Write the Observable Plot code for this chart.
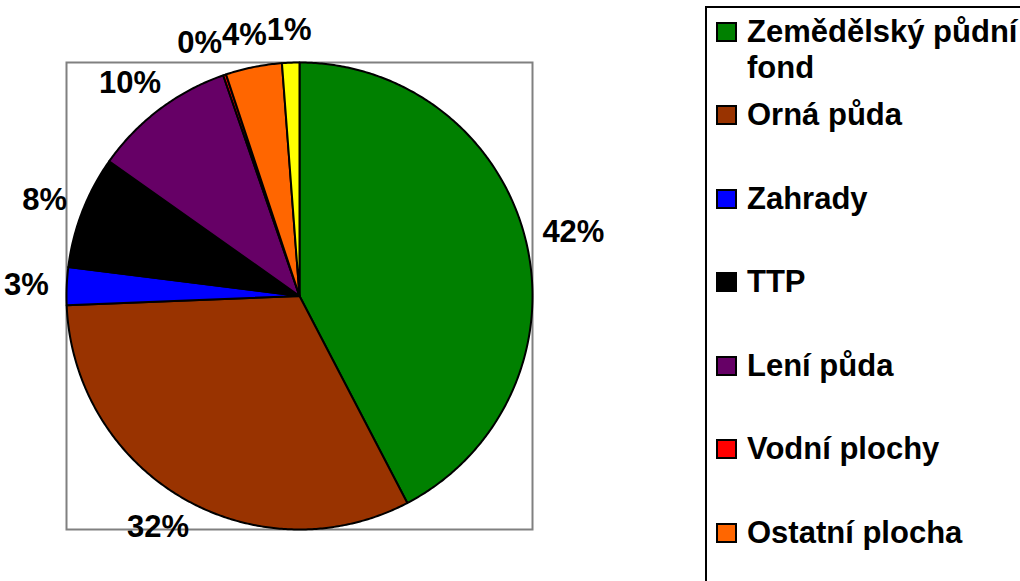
<!DOCTYPE html>
<html>
<head>
<meta charset="utf-8">
<script src="https://cdn.jsdelivr.net/npm/d3@7"></script>
<script src="https://cdn.jsdelivr.net/npm/@observablehq/plot@0.6"></script>
<style>
  html, body { margin: 0; padding: 0; background: #fff; overflow: hidden; }
  #wrap { position: relative; width: 1020px; height: 581px; overflow: hidden; }
  #legend { position: absolute; left: 705px; top: 6px; width: 420px; height: 700px; border: 2px solid #000; box-sizing: border-box; overflow: hidden; }
  .item { position: absolute; font: bold 31px "Liberation Sans", Arial, sans-serif; line-height: 36px; color: #000; width: 300px; }
  .sw { position: absolute; width: 21px; height: 20px; border: 2px solid #000; box-sizing: border-box; }
</style>
</head>
<body>
<div id="wrap"></div>
<script>
const categories = ["Zemědělský půdní fond", "Orná půda", "Zahrady", "TTP", "Lení půda", "Vodní plochy", "Ostatní plocha", "Zastavěná plocha"];
const values = [42.3, 32.0, 2.6, 7.8, 9.9, 0.2, 3.9, 1.2];
const colors = ["#008000", "#993300", "#0000FF", "#000000", "#660066", "#FF0000", "#FF6600", "#FFFF00"];

const W = 1020, H = 581;
const mL = 66, mR = 488, mT = 62, mB = 52;
const Rpx = (W - mL - mR) / 2;
const total = d3.sum(values);
const arcs = d3.pie().sort(null)(values);

// slice outlines in data units (unit circle)
const slices = arcs.map((a, i) => {
  const pts = [{x: 0, y: 0}];
  const n = Math.max(2, Math.ceil((a.endAngle - a.startAngle) / (Math.PI / 360)));
  for (let k = 0; k <= n; k++) {
    const t = a.startAngle + (a.endAngle - a.startAngle) * k / n;
    pts.push({x: Math.sin(t), y: Math.cos(t)});
  }
  return {pts, color: colors[i]};
});

// labels
const fs = 31, gap = 18, hh = 15;
let labels = arcs.map((a, i) => {
  const pct = Math.round(values[i] / total * 100);
  const text = pct + "%";
  const w = (String(pct).length * 0.556 + 0.889) * fs;
  const m = (a.startAngle + a.endAngle) / 2;
  const s = Math.sin(m), c = Math.cos(m);
  const px = (Rpx + gap) * s + (w / 2) * s;
  const py = (Rpx + gap) * c + hh * c;
  return {text, w, px, py, top: c > 0.7};
});
// simple overlap avoidance for labels near the top (shift left going counterclockwise)
for (let i = labels.length - 2; i >= 0; i--) {
  const a = labels[i], b = labels[i + 1];
  if (a.top && b.top) {
    const overlap = (a.px + a.w / 2) - (b.px - b.w / 2);
    if (overlap > 0) a.px -= overlap;
  }
}
labels = labels.map(l => ({...l, x: l.px / Rpx, y: l.py / Rpx}));

const marks = [
  Plot.frame({stroke: "#808080", strokeWidth: 2}),
  ...slices.map(s => Plot.line(s.pts, {x: "x", y: "y", fill: s.color, stroke: "#000", strokeWidth: 2, strokeLinejoin: "round", curve: "linear-closed"})),
  Plot.text(labels, {x: "x", y: "y", text: "text", fontSize: fs, fontWeight: "bold", fontFamily: "Liberation Sans, Arial, sans-serif", fill: "#000"})
];

const chart = Plot.plot({
  width: W, height: H,
  marginLeft: mL, marginRight: mR, marginTop: mT, marginBottom: mB,
  x: {domain: [-1, 1], axis: null},
  y: {domain: [-1, 1], axis: null},
  style: {background: "transparent", overflow: "visible"},
  marks
});
const wrap = document.getElementById("wrap");
wrap.appendChild(chart);

// legend (entries below the visible area are clipped, as in the reference)
const legend = document.createElement("div");
legend.id = "legend";
wrap.appendChild(legend);
const baselines = categories.map((c, i) => i === 0 ? 42 : 125 + (i - 1) * 83.5);
categories.forEach((c, i) => {
  const b = baselines[i];
  if (b > H) return;
  const sw = document.createElement("div");
  sw.className = "sw";
  sw.style.background = colors[i];
  sw.style.left = (716 - 707) + "px";
  sw.style.top = (b - 20 - 8) + "px";
  legend.appendChild(sw);
  const t = document.createElement("div");
  t.className = "item";
  t.textContent = c;
  t.style.left = (747 - 707) + "px";
  t.style.top = (b - 28 - 8) + "px";
  legend.appendChild(t);
});
</script>
</body>
</html>
